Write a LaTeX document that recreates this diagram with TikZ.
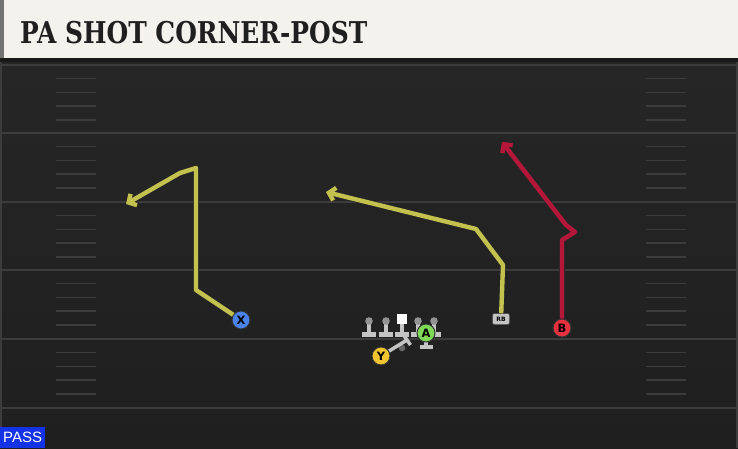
\documentclass[tikz,border=0pt]{standalone}
\usepackage{fontspec}
\usetikzlibrary{arrows.meta}
\newfontfamily\titlefont{DejaVu Serif}
\newfontfamily\markfont{DejaVu Sans}
\newfontfamily\tagfont{Liberation Sans}
\definecolor{fieldgray}{HTML}{262626}
\definecolor{fieldlow}{HTML}{1F1F1F}
\definecolor{yardgray}{HTML}{3C3C3C}
\definecolor{cream}{HTML}{F4F2EC}
\definecolor{routeyellow}{HTML}{C3C24F}
\definecolor{routered}{HTML}{B4173A}
\definecolor{xblue}{HTML}{4A82E8}
\definecolor{yyellow}{HTML}{F2C530}
\definecolor{agreen}{HTML}{7ED957}
\definecolor{bred}{HTML}{E8303F}
\definecolor{olgray}{HTML}{C4C4C4}
\definecolor{passblue}{HTML}{1432E6}

\begin{document}
\begin{tikzpicture}[x=1pt, y=-1pt,
    player/.style={circle, draw=black!80, line width=1pt, minimum size=18pt, inner sep=0pt,
      font=\markfont\bfseries\fontsize{11.5}{11.5}\selectfont},
    route/.style={draw=routeyellow, line width=4.4pt, line join=round,
      -{Straight Barb[length=6pt,width=13pt]}, preaction={draw=black!85, line width=6pt}},
    redroute/.style={route, draw=routered},
    yardline/.style={draw=yardgray, line width=2pt},
    hashmark/.style={draw=yardgray, line width=1.5pt},
    blockline/.style={draw=olgray, line width=3.5pt}]
  \useasboundingbox (0,0) rectangle (738,448);
  % field
  \shade[top color=fieldgray, bottom color=fieldlow] (0,62) rectangle (738,448);
  \foreach \y in {65,133,202,270,339,408}
    \draw[yardline] (0,\y) -- (738,\y);
  \foreach \y in {65,133,202,270,339}
    \foreach \k in {1,...,4} {
      \draw[hashmark] (56,\y+13.7*\k) -- (96,\y+13.7*\k);
      \draw[hashmark] (646,\y+13.7*\k) -- (686,\y+13.7*\k);
    }
  \draw[yardgray, line width=1.2pt] (1,62) -- (1,448) (737,62) -- (737,448);
  % header
  \fill[cream] (0,0) rectangle (738,58);
  \fill[black!55] (0,0) rectangle (4,58);
  \fill[black!90] (0,58) rectangle (738,62);
  \node[anchor=base west, xscale=0.83, inner sep=0pt, text=black!88,
    font=\titlefont\bfseries\fontsize{30}{30}\selectfont] (title) at (20,43) {PA SHOT CORNER-POST};
  % line
  \foreach \x [count=\i] in {369,386,418,434} {
    \fill[olgray] (\x-7,332) rectangle (\x+7,336.5);
    \fill[olgray] (\x-2.3,322) rectangle (\x+2.3,333);
    \fill[olgray!75!black] (\x,321) circle (3.8);
  }
  \fill[olgray] (395,332) rectangle (409,336.5);
  \fill[olgray] (399.7,322) rectangle (404.3,333);
  \node[fill=white, minimum size=10pt, inner sep=0pt] (C) at (402,318.5) {};
  \fill[olgray] (419.5,344.5) rectangle (432.5,349);
  \fill[olgray] (423.8,338) rectangle (428.2,346);
  % players
  \node[player, fill=xblue] (X) at (241,320) {X};
  \node[player, fill=yyellow] (Y) at (381,356) {Y};
  \node[player, fill=agreen] (A) at (426,333) {A};
  \node[player, fill=bred] (B) at (562,328) {B};
  \node[fill=olgray, draw=black!70, line width=0.5pt, rounded corners=2pt, minimum width=17pt,
    minimum height=11pt, inner sep=0pt, font=\markfont\bfseries\fontsize{6}{6}\selectfont] (RB) at (501,319) {RB};
  % block
  \coordinate (blk) at (407,340);
  \coordinate (blk1) at (403.5,335);
  \coordinate (blk2) at (410.5,345);
  \fill[black!60] (402,348) circle (3.3);
  \draw[blockline] (Y) -- (blk);
  \draw[blockline] (blk1) -- (blk2);
  % routes
  \coordinate (xr1) at (196,290);
  \coordinate (xr2) at (196,168);
  \coordinate (xr3) at (180,173);
  \coordinate (xr4) at (126,204);
  \coordinate (rb1) at (503,265);
  \coordinate (rb2) at (476,229);
  \coordinate (rb3) at (326,192);
  \coordinate (br1) at (562,240);
  \coordinate (br2) at (575,232);
  \coordinate (br3) at (566,225);
  \coordinate (br4) at (502,142);
  \draw[route] (X) -- (xr1) -- (xr2) -- (xr3) -- (xr4);
  \draw[route] (RB) -- (rb1) -- (rb2) -- (rb3);
  \draw[redroute] (B) -- (br1) -- (br2) -- (br3) -- (br4);
  % tag
  \node[fill=passblue, text=white, anchor=south west, minimum width=45pt, minimum height=21pt,
    inner sep=0pt, font=\tagfont\fontsize{15}{15}\selectfont] (pass) at (0,448) {PASS};
\end{tikzpicture}
\end{document}
